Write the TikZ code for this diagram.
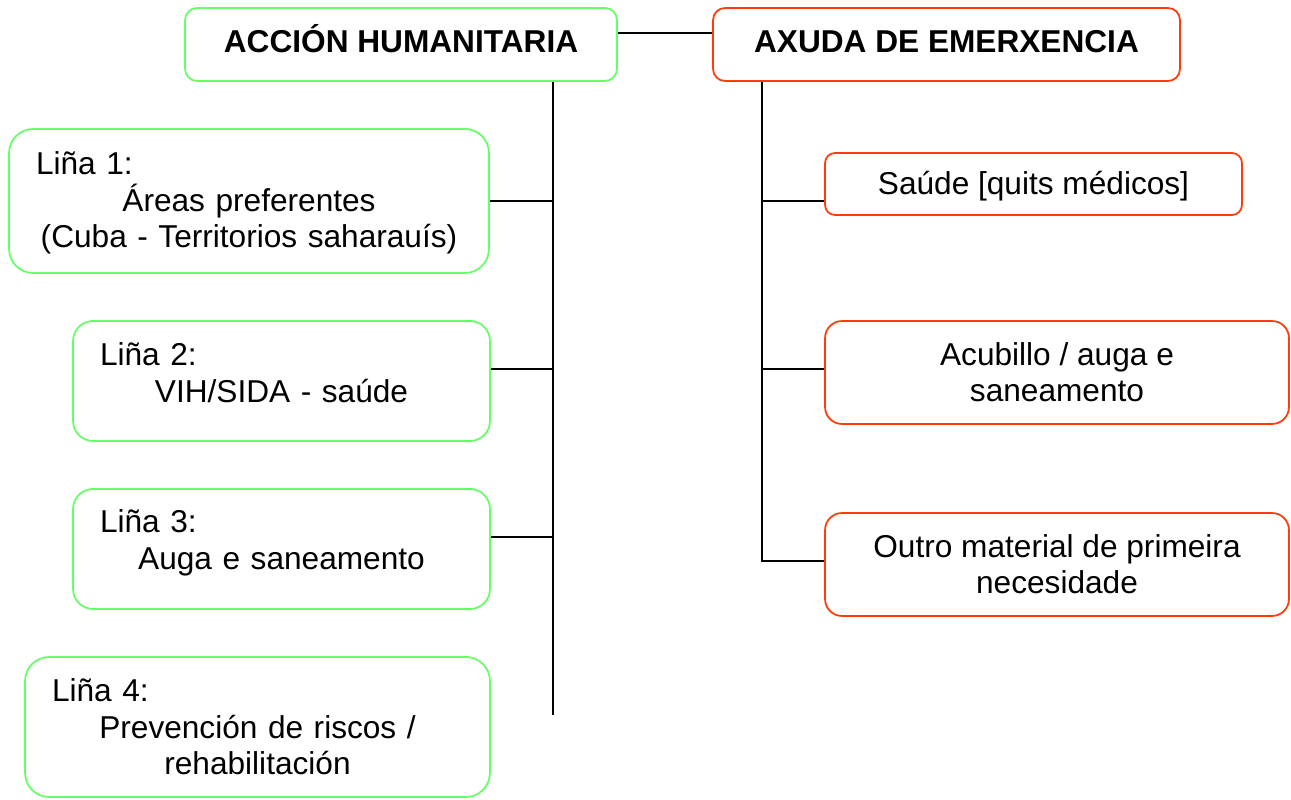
\documentclass[tikz,border=0pt]{standalone}
\usepackage{fontspec}
\setmainfont{Liberation Sans}
\usetikzlibrary{positioning}
\definecolor{hgreen}{RGB}{102,255,102}
\definecolor{ered}{RGB}{255,60,10}
\tikzset{
  box/.style={draw, line width=1pt, inner sep=0pt, align=center,
    font=\fontsize{18}{20.7}\selectfont},
  hbox/.style={box, draw=hgreen},
  ebox/.style={box, draw=ered},
  title/.style={font=\bfseries\fontsize{18}{20.7}\selectfont,
    text height=12.6pt, text depth=4pt},
  linebox/.style={hbox, text width=#1, inner xsep=0.54cm},
  wire/.style={line width=1.1pt}
}
\begin{document}
\begin{tikzpicture}[x=0.02cm, y=-0.02cm]
\useasboundingbox (0,0) rectangle (1291,800);

% cabeceiras
\node[hbox, title, minimum width=8.64cm, minimum height=1.46cm, rounded corners=0.24cm]
  (hum) at (401,44.5) {ACCIÓN HUMANITARIA};
\node[ebox, title, minimum width=9.34cm, minimum height=1.46cm, rounded corners=0.24cm]
  (eme) at (946.5,44.5) {AXUDA DE EMERXENCIA};

% liñas de accion humanitaria
\node[linebox=8.52cm, minimum height=2.88cm, rounded corners=0.48cm, text depth=1.5cm]
  (l1) at (249,201) {\makebox[\linewidth][l]{Liña 1:}\\ Áreas preferentes\\ (Cuba - Territorios saharauís)};
\node[linebox=7.26cm, minimum height=2.4cm, rounded corners=0.4cm, text depth=1.07cm]
  (l2) at (281.5,381) {\makebox[\linewidth][l]{Liña 2:}\\ VIH/SIDA - saúde};
\node[linebox=7.26cm, minimum height=2.4cm, rounded corners=0.4cm, text depth=1.1cm]
  (l3) at (281.5,549) {\makebox[\linewidth][l]{Liña 3:}\\ Auga e saneamento};
\node[linebox=8.22cm, minimum height=2.8cm, rounded corners=0.48cm]
  (l4) at (257.5,727) {\makebox[\linewidth][l]{Liña 4:}\\ Prevención de riscos /\\ rehabilitación};

% axuda de emerxencia
\node[ebox, minimum width=8.34cm, minimum height=1.24cm, rounded corners=0.2cm,
  text height=0.6cm, text depth=0.16cm]
  (s1) at (1033.5,184) {Saúde [quits médicos]};
\node[ebox, minimum width=9.28cm, minimum height=2.06cm, rounded corners=0.34cm]
  (s2) at (1057,372.5) {Acubillo / auga e\\ saneamento};
\node[ebox, minimum width=9.28cm, minimum height=2.06cm, rounded corners=0.34cm]
  (s3) at (1057,564.5) {Outro material de primeira\\ necesidade};

% conectores
\coordinate (hbot) at (553,715);
\coordinate (ebot) at (762,561);
\coordinate (j1) at (l1.east);
\coordinate (j2) at ([yshift=0.24cm]l2.east);
\coordinate (j3) at ([yshift=0.24cm]l3.east);
\coordinate (k1) at ([yshift=-0.34cm]s1.west);
\coordinate (k2) at ([yshift=0.07cm]s2.west);
\draw[wire] ([yshift=0.23cm]hum.east) -- ([yshift=0.23cm]eme.west);
\draw[wire] (hbot |- hum.south) -- (hbot);
\draw[wire] (ebot |- eme.south) -- (ebot) -- (ebot -| s3.west);
\draw[wire] (j1) -- (j1 -| hbot);
\draw[wire] (j2) -- (j2 -| hbot);
\draw[wire] (j3) -- (j3 -| hbot);
\draw[wire] (k1) -- (k1 -| ebot);
\draw[wire] (k2) -- (k2 -| ebot);
\end{tikzpicture}
\end{document}
